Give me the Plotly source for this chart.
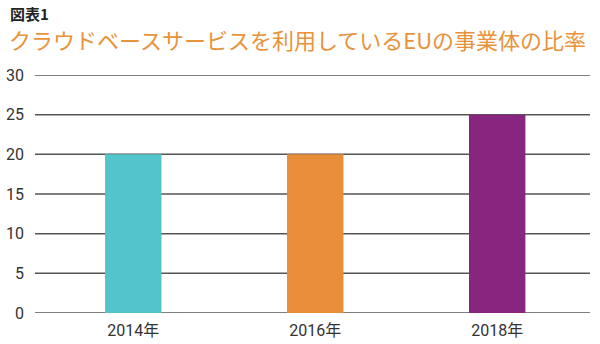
import plotly.graph_objects as go

years = ["2014年", "2016年", "2018年"]
shares = [20, 20, 25]
bar_colors = ["#52C4CB", "#E88E3A", "#88267F"]
y_ticks = [0, 5, 10, 15, 20, 25, 30]

PLOT_LEFT, PLOT_TOP, PLOT_W, PLOT_H = 35, 75, 555, 238

fig = go.Figure(
    go.Bar(
        x=[0, 1, 2],
        y=shares,
        width=0.31,
        marker=dict(color=bar_colors, line=dict(width=0)),
    )
)

# horizontal rules at every y tick, drawn beneath the bars
for v in y_ticks:
    fig.add_shape(
        type="line", xref="paper", yref="y",
        x0=0, x1=1, y0=v, y1=v,
        line=dict(color="#555555", width=1.5),
        layer="below",
    )

fig.update_layout(
    width=600,
    height=344,
    margin=dict(l=PLOT_LEFT, r=600 - PLOT_LEFT - PLOT_W, t=PLOT_TOP,
                b=344 - PLOT_TOP - PLOT_H, autoexpand=False),
    plot_bgcolor="white",
    paper_bgcolor="white",
    showlegend=False,
    font=dict(family="Roboto, 'Noto Sans CJK JP'", size=16, color="#333333"),
    xaxis=dict(
        range=[-0.54, 2.51],
        tickmode="array",
        tickvals=[0, 1, 2],
        ticktext=years,
        showgrid=False,
        zeroline=False,
        showline=False,
        ticks="",
        automargin=False,
        ticklabelstandoff=6,
        tickfont=dict(family="Roboto, 'Noto Sans CJK JP'", size=16, color="#333333"),
    ),
    yaxis=dict(
        range=[0, 30],
        tickmode="array",
        tickvals=y_ticks,
        showgrid=False,
        zeroline=False,
        showline=False,
        ticks="",
        automargin=False,
        ticklabelstandoff=10,
        tickfont=dict(family="Roboto", size=16, color="#333333"),
    ),
)

# header texts, positioned in pixels from the page's top-left corner
def px_x(px):
    return (px - PLOT_LEFT) / PLOT_W

def px_y(py):
    return 1 + (PLOT_TOP - py) / PLOT_H

fig.add_annotation(
    text="<b>図表1</b>", xref="paper", yref="paper",
    x=px_x(9), y=px_y(13), xanchor="left", yanchor="middle",
    showarrow=False, borderpad=0,
    font=dict(family="'Noto Sans CJK JP'", size=15, color="#222222"),
)
fig.add_annotation(
    text="クラウドベースサービスを利用しているEUの事業体の比率",
    xref="paper", yref="paper",
    x=px_x(8), y=px_y(39), xanchor="left", yanchor="middle",
    showarrow=False, borderpad=0,
    font=dict(family="'Noto Sans CJK JP'", size=22, color="#E8923A"),
)

fig.write_html("out.html")
